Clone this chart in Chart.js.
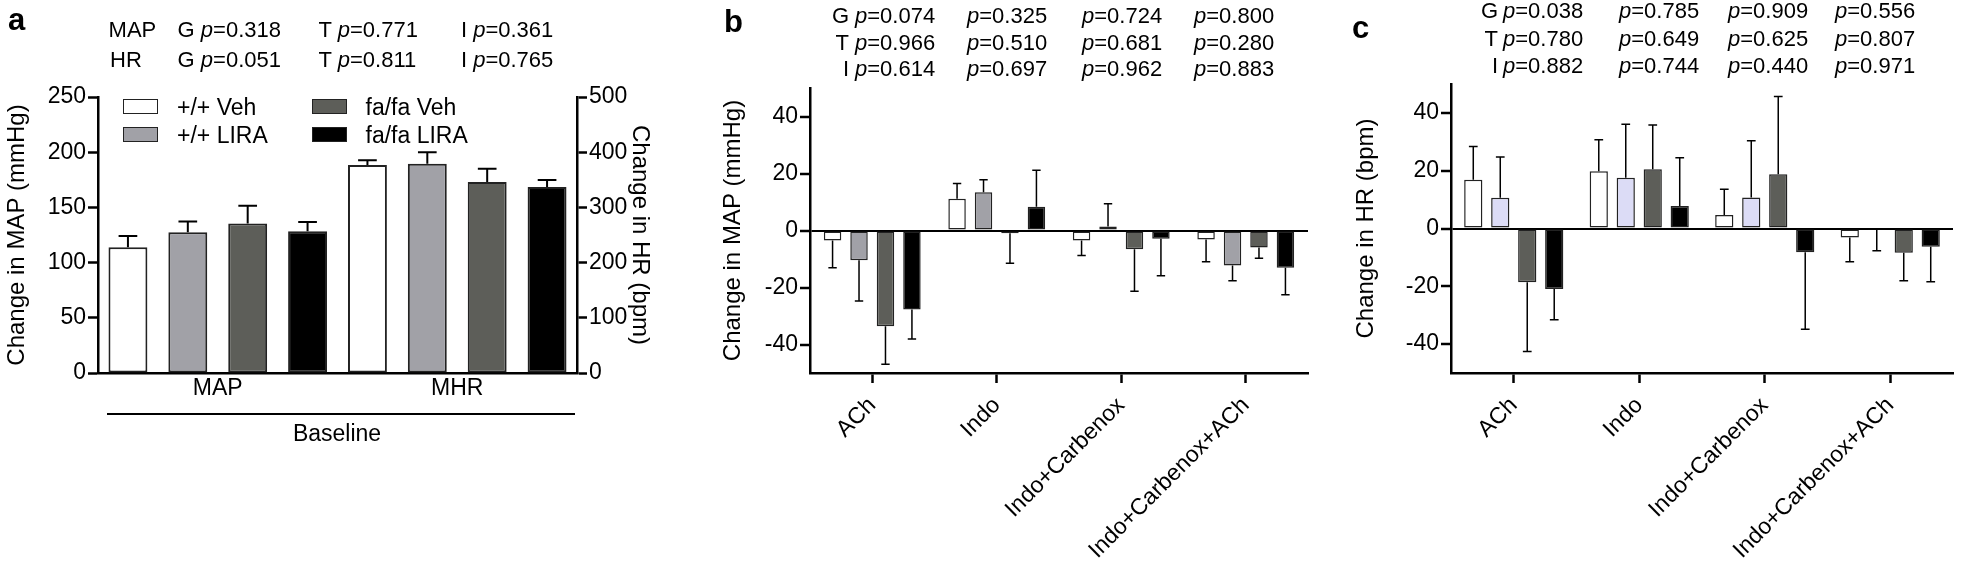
<!DOCTYPE html>
<html>
<head>
<meta charset="utf-8">
<script src="https://cdn.jsdelivr.net/npm/chart.js@4.4.0/dist/chart.umd.min.js"></script>
<style>
  body { margin: 0; background: #fff; }
  #fig { position: relative; width: 1961px; height: 567px; overflow: hidden;
         font-family: "Liberation Sans", Arial, Helvetica, sans-serif; color: #000; }
  canvas { position: absolute; top: 0; }
  .t { position: absolute; white-space: nowrap; line-height: 1; }
  .box { position: absolute; width: 33px; height: 13px; border: 1.5px solid #222; }
</style>
</head>
<body>
<div id="fig">
  <canvas id="chartA" width="690" height="567" style="left:0px"></canvas>
  <canvas id="chartB" width="630" height="567" style="left:690px"></canvas>
  <canvas id="chartC" width="641" height="567" style="left:1320px"></canvas>
</div>
<script>
// ---- data ----
const seriesNames = ['+/+ Veh', '+/+ LIRA', 'fa/fa Veh', 'fa/fa LIRA'];

// panel a: baseline values (MAP on left axis, HR on right axis)
const baselineGroups = ['MAP', 'MHR'];
const baselineMap = [114, 127.5, 135.5, 128.5];
const baselineMapSem = [10, 9.7, 16, 8.2];
const baselineHr = [377, 379, 346, 337];
const baselineHrSem = [8.5, 21, 24, 12.6];
const mapTicks = [0, 50, 100, 150, 200, 250];
const hrTicks = [0, 100, 200, 300, 400, 500];

// panels b and c: change from baseline
const treatments = ['ACh', 'Indo', 'Indo+Carbenox', 'Indo+Carbenox+ACh'];
const changeTicks = [-40, -20, 0, 20, 40];

const mapChange = [
  [-3.5, 11.1, -3.5, -3.2],
  [-10.4, 13.4, 1.4, -12.3],
  [-33.6, -1.0, -6.6, -6.0],
  [-27.7, 8.3, -2.9, -13.1]
];
const mapChangeSem = [
  [9.6, 5.4, 5.3, 7.8],
  [14.3, 4.4, 8.0, 5.3],
  [13.3, 10.5, 14.7, 3.7],
  [10.4, 12.8, 13.0, 9.4]
];

const hrChange = [
  [16.9, 19.8, 4.7, -3.1],
  [10.6, 17.6, 10.7, -0.3],
  [-18.6, 20.5, 18.8, -8.4],
  [-20.9, 7.8, -8.2, -6.3]
];
const hrChangeSem = [
  [11.5, 10.9, 8.9, 8.4],
  [14.1, 18.5, 19.7, 7.4],
  [24.0, 15.3, 26.9, 9.7],
  [10.7, 16.7, 26.7, 12.1]
];

// p values
const pA = { MAP: ['0.318', '0.771', '0.361'], HR: ['0.051', '0.811', '0.765'] };
const pB = { G: ['0.074', '0.325', '0.724', '0.800'], T: ['0.966', '0.510', '0.681', '0.280'], I: ['0.614', '0.697', '0.962', '0.883'] };
const pC = { G: ['0.038', '0.785', '0.909', '0.556'], T: ['0.780', '0.649', '0.625', '0.807'], I: ['0.882', '0.744', '0.440', '0.971'] };

const colorsA = ['#ffffff', '#a1a1a7', '#5d5e59', '#000000'];
const colorsC = ['#ffffff', '#dcdcf6', '#5d5e59', '#000000'];

Chart.defaults.font.family = "'Liberation Sans', Arial, Helvetica, sans-serif";
Chart.defaults.color = '#000';
Chart.defaults.animation = false;

// error bars, drawn one-sided away from zero
const errorBars = {
  id: 'errorBars',
  afterDatasetsDraw(chart, args, opts) {
    const ctx = chart.ctx;
    chart.data.datasets.forEach((ds, i) => {
      const meta = chart.getDatasetMeta(i);
      if (!ds.errors) return;
      const scale = chart.scales[meta.yAxisID];
      meta.data.forEach((bar, j) => {
        const v = ds.data[j], e = ds.errors[j];
        if (v == null || e == null) return;
        const end = scale.getPixelForValue(v >= 0 ? v + e : v - e);
        const half = bar.width * 0.24;
        ctx.save();
        ctx.strokeStyle = '#000';
        ctx.lineWidth = opts.width || 1.5;
        ctx.beginPath();
        ctx.moveTo(bar.x, bar.y);
        ctx.lineTo(bar.x, end);
        ctx.moveTo(bar.x - half, end);
        ctx.lineTo(bar.x + half, end);
        ctx.stroke();
        ctx.restore();
      });
    });
  }
};

// ---- panel a ----
const dsA = [];
seriesNames.forEach((name, i) => {
  dsA.push({ label: name, data: [baselineMap[i], null], errors: [baselineMapSem[i], null], yAxisID: 'y',
    backgroundColor: colorsA[i], borderColor: '#222', borderWidth: 2, borderSkipped: false, skipNull: true,
    categoryPercentage: 1.0, barPercentage: 0.65 });
});
seriesNames.forEach((name, i) => {
  dsA.push({ label: name, data: [null, baselineHr[i]], errors: [null, baselineHrSem[i]], yAxisID: 'y2',
    backgroundColor: colorsA[i], borderColor: '#222', borderWidth: 2, borderSkipped: false, skipNull: true,
    categoryPercentage: 1.0, barPercentage: 0.65 });
});

new Chart(document.getElementById('chartA'), {
  type: 'bar',
  data: { labels: baselineGroups, datasets: dsA },
  plugins: [errorBars],
  options: {
    responsive: false,
    layout: { padding: { top: 97, left: 0, right: 0, bottom: 0 } },
    plugins: { legend: { display: false }, tooltip: { enabled: false }, errorBars: { width: 2 } },
    scales: {
      x: {
        grid: { display: false },
        border: { color: '#000', width: 2.5 },
        ticks: { font: { size: 23 }, padding: -6 },
        afterFit: s => { s.height = 194; }
      },
      y: {
        position: 'left', min: 0, max: 250,
        afterBuildTicks: s => { s.ticks = mapTicks.map(v => ({ value: v })); },
        ticks: { font: { size: 23 }, padding: 2 },
        grid: { drawOnChartArea: false, tickLength: 10, tickWidth: 2.5, tickColor: '#000' },
        border: { color: '#000', width: 2.5 },
        title: { display: true, text: 'Change in MAP (mmHg)', font: { size: 24 }, padding: { top: 3, bottom: 0 } },
        afterFit: s => { s.width = 98; }
      },
      y2: {
        position: 'right', min: 0, max: 500,
        afterBuildTicks: s => { s.ticks = hrTicks.map(v => ({ value: v })); },
        ticks: { font: { size: 23 }, padding: 2 },
        grid: { drawOnChartArea: false, tickLength: 10, tickWidth: 2.5, tickColor: '#000' },
        border: { color: '#000', width: 2.5 },
        title: { display: true, text: 'Change in HR (bpm)', font: { size: 24 }, padding: { top: 36, bottom: 0 } },
        afterFit: s => { s.width = 113; }
      }
    }
  }
});

// ---- panels b and c ----
function changeChart(id, values, sems, colors, title, yWidth, titlePad, padTop, padRight, catPct, barPct) {
  const datasets = seriesNames.map((name, i) => ({
    label: name, data: values[i], errors: sems[i],
    backgroundColor: colors[i], borderColor: '#222', borderWidth: 1.5, borderSkipped: false,
    categoryPercentage: catPct, barPercentage: barPct
  }));
  return new Chart(document.getElementById(id), {
    type: 'bar',
    data: { labels: treatments, datasets },
    plugins: [errorBars],
    options: {
      responsive: false,
      layout: { padding: { top: padTop, left: 0, right: padRight, bottom: 0 } },
      plugins: { legend: { display: false }, tooltip: { enabled: false }, errorBars: { width: 1.5 } },
      scales: {
        x: {
          grid: { drawOnChartArea: false, offset: false, tickLength: 10, tickWidth: 2.5, tickColor: '#000', color: '#000' },
          border: { color: '#000', width: 2.5 },
          ticks: { font: { size: 23 }, minRotation: 45, maxRotation: 45, padding: 9 },
          afterFit: s => { s.height = 194; }
        },
        y: {
          min: -50, max: 50,
          afterBuildTicks: s => { s.ticks = changeTicks.map(v => ({ value: v })); },
          ticks: { font: { size: 23 }, padding: 2 },
          grid: {
            color: c => (c.tick && c.tick.value === 0) ? '#000' : 'rgba(0,0,0,0)',
            lineWidth: 2, tickLength: 10, tickWidth: 2.5, tickColor: '#000'
          },
          border: { color: '#000', width: 2.5 },
          title: { display: true, text: title, font: { size: 24 }, padding: { top: titlePad, bottom: 0 } },
          afterFit: s => { s.width = yWidth; }
        }
      }
    }
  });
}

changeChart('chartB', mapChange, mapChangeSem, colorsA, 'Change in MAP (mmHg)', 120, 29, 88, 12, 0.85, 0.66);
changeChart('chartC', hrChange, hrChangeSem, colorsC, 'Change in HR (bpm)', 131, 32, 84, 8, 0.86, 0.675);

// ---- text annotations ----
const fig = document.getElementById('fig');
function txt(html, x, baseline, size, opts = {}) {
  const d = document.createElement('div');
  d.className = 't';
  d.innerHTML = html;
  d.style.fontSize = size + 'px';
  d.style.left = x + 'px';
  d.style.top = (baseline - 0.8465 * size) + 'px';
  if (opts.bold) d.style.fontWeight = 'bold';
  if (opts.align === 'right') d.style.transform = 'translateX(-100%)';
  if (opts.align === 'center') d.style.transform = 'translateX(-50%)';
  fig.appendChild(d);
}
const pv = v => '<i>p</i>=' + v;

// panel letters
txt('a', 8, 30, 31, { bold: true });
txt('b', 724, 32, 31, { bold: true });
txt('c', 1352, 38, 31, { bold: true });

// panel a p values
const rowA = [['MAP', 38], ['HR', 68]];
const colA = [177.6, 318.6, 460.9];
const letA = ['G', 'T', 'I'];
rowA.forEach(([k, base]) => {
  txt(k, k === 'MAP' ? 108.6 : 110, base, 22);
  pA[k].forEach((v, j) => txt(letA[j] + ' ' + pv(v), colA[j], base, 22));
});

// panel b / c p values
function pTable(table, letterRight, cols, bases) {
  ['G', 'T', 'I'].forEach((k, r) => {
    txt(k, letterRight, bases[r], 22, { align: 'right' });
    table[k].forEach((v, j) => txt(pv(v), cols[j], bases[r], 22));
  });
}
pTable(pB, 849, [855, 967, 1082, 1194], [23.5, 50.5, 77]);
pTable(pC, 1498, [1503, 1619, 1728, 1835], [19, 47, 74]);

// panel a legend (two columns)
const legendPos = [[123, 99], [123, 127], [311.5, 99], [311.5, 127]];
seriesNames.forEach((name, i) => {
  const [x, y] = legendPos[i];
  const b = document.createElement('div');
  b.className = 'box';
  b.style.left = x + 'px';
  b.style.top = y + 'px';
  b.style.background = colorsA[i];
  fig.appendChild(b);
  txt(name, x + 54, y + 16, 23);
});

// baseline group bracket
const line = document.createElement('div');
line.style.cssText = 'position:absolute;left:107px;top:413px;width:468px;height:2px;background:#000;';
fig.appendChild(line);
txt('Baseline', 337, 441, 23, { align: 'center' });
</script>
</body>
</html>
